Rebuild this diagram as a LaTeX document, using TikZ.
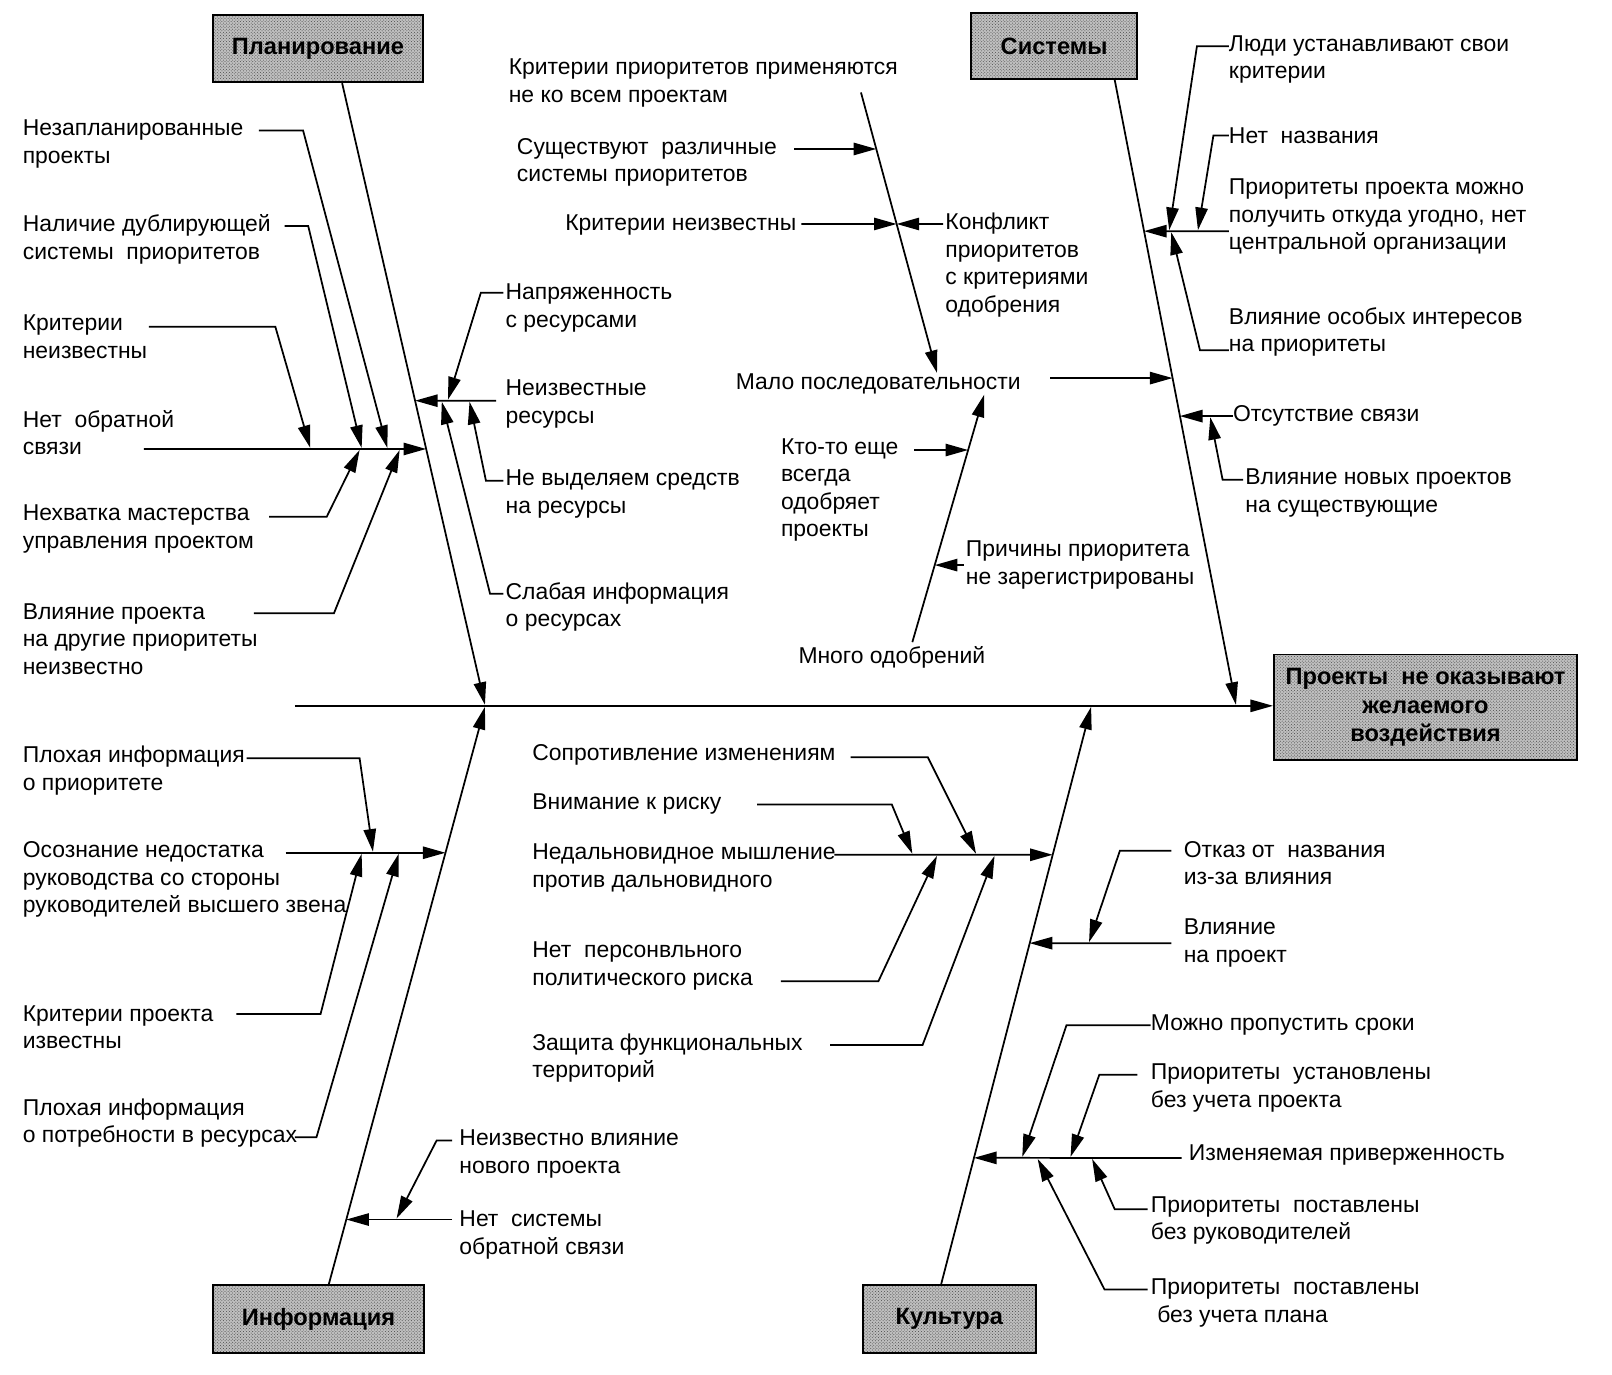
\documentclass[tikz,border=0pt]{standalone}
\usepackage{fontspec}
\setmainfont{Liberation Sans}
\usetikzlibrary{arrows.meta,patterns}

\tikzset{
  lbl/.style={anchor=west, align=left, inner sep=0pt,
    font=\fontsize{22.3}{26.8}\selectfont},
  cat/.style={draw, line width=1.8pt, preaction={fill=gray!50},
    pattern=crosshatch dots, pattern color=black!70,
    minimum height=66pt, inner sep=2pt, align=center,
    font=\fontsize{23}{28}\selectfont\bfseries},
  bone/.style={line width=1.7pt},
  arr/.style={bone, -{Triangle[length=22pt,width=12pt]}},
}

\begin{document}
\begin{tikzpicture}[x=1pt,y=-1pt]
  \useasboundingbox (0,0) rectangle (1569,1338);

  \node[cat, minimum width=205pt, minimum height=65pt] (plan) at (309.5,47.5) {Планирование};
  \node[cat, minimum width=162pt, minimum height=64pt] (sys) at (1026,45) {Системы};
  \node[cat, minimum width=206pt] (info) at (310,1284) {Информация};
  \node[cat, minimum width=168pt] (cult) at (924,1284) {Культура};
  \node[cat, minimum width=295pt, minimum height=103pt] (effect) at (1387.5,688.5)
    {Проекты~ не оказывают\\желаемого\\воздействия};

  \coordinate (tail) at (287,687);
  \draw[arr] (tail) -- (tail -| effect.west);

  \coordinate (pl0) at ([xshift=23.5pt]plan.south);
  \coordinate (pl1) at (472,686);
  \draw[arr] (pl0) -- (pl1);
  \coordinate (sy0) at ([xshift=59pt]sys.south);
  \coordinate (sy1) at (1203,686);
  \draw[arr] (sy0) -- (sy1);
  \coordinate (in0) at ([xshift=10pt]info.north);
  \coordinate (in1) at (472,688);
  \draw[arr] (in0) -- (in1);
  \coordinate (cu0) at ([xshift=-8pt]cult.north);
  \coordinate (cu1) at (1062,688);
  \draw[arr] (cu0) -- (cu1);

  \node[lbl] (unpl) at (22,140) {Незапланированные\\проекты};
  \node[lbl] (dupl) at (22,233) {Наличие дублирующей\\системы~ приоритетов};
  \node[lbl] (critp) at (22,328) {Критерии\\неизвестны};
  \node[lbl] (nofb) at (22,421) {Нет~ обратной\\связи};
  \node[lbl] (skill) at (22,515) {Нехватка мастерства\\управления проектом};
  \node[lbl] (impact) at (22,622) {Влияние проекта\\на другие приоритеты\\неизвестно};

  \coordinate (nofb-a) at (140,437);
  \coordinate (nofb-b) at (intersection of pl0--pl1 and 0,437--1,437);
  \draw[arr] (nofb-a) -- (nofb-b);
  \coordinate (unpl-a) at (252,127);
  \coordinate (unpl-b) at (377,436);
  \draw[arr] (unpl-a) -- ++(43,0) -- (unpl-b);
  \coordinate (dupl-a) at (277,220);
  \coordinate (dupl-b) at (352,436);
  \draw[arr] (dupl-a) -- ++(23,0) -- (dupl-b);
  \coordinate (critp-a) at (145,318);
  \coordinate (critp-b) at (302,436);
  \draw[arr] (critp-a) -- ++(123,0) -- (critp-b);
  \coordinate (skill-a) at (262,503);
  \coordinate (skill-b) at (350,438);
  \draw[arr] (skill-a) -- ++(56,0) -- (skill-b);
  \coordinate (impact-a) at (247,597);
  \coordinate (impact-b) at (389,438);
  \draw[arr] (impact-a) -- ++(78,0) -- (impact-b);

  \node[lbl] (tens) at (492,300) {Напряженность\\с ресурсами};
  \node[lbl] (unres) at (492,393) {Неизвестные\\ресурсы};
  \node[lbl] (noalloc) at (492,481) {Не выделяем средств\\на ресурсы};
  \node[lbl] (weak) at (492,591) {Слабая информация\\о ресурсах};

  \coordinate (unres-a) at (483,390);
  \coordinate (unres-b) at (intersection of pl0--pl1 and 0,390--1,390);
  \draw[arr] (unres-a) -- (unres-b);
  \coordinate (tens-a) at (490,285);
  \coordinate (tens-b) at (436,389);
  \draw[arr] (tens-a) -- ++(-22,0) -- (tens-b);
  \coordinate (noalloc-a) at (490,468);
  \coordinate (noalloc-b) at (457,391);
  \draw[arr] (noalloc-a) -- ++(-17,0) -- (noalloc-b);
  \coordinate (weak-a) at (490,578);
  \coordinate (weak-b) at (430,391);
  \draw[arr] (weak-a) -- ++(-13,0) -- (weak-b);

  \node[lbl] (critall) at (495,81) {Критерии приоритетов применяются\\не ко всем проектам};
  \node[lbl] (diff) at (503,158) {Существуют~ различные\\системы приоритетов};
  \node[lbl] (critunk) at (550,219) {Критерии неизвестны};
  \node[lbl] (confl) at (920,258) {Конфликт\\приоритетов\\с критериями\\одобрения};
  \node[lbl] (few) at (716,374) {Мало последовательности};
  \node[lbl] (someone) at (760,477) {Кто-то еще\\всегда\\одобряет\\проекты};
  \node[lbl] (reason) at (940,550) {Причины приоритета\\не зарегистрированы};
  \node[lbl] (many) at (777,640) {Много одобрений};

  \coordinate (cons-a) at (838,90);
  \coordinate (cons-b) at (912,363);
  \draw[arr] (cons-a) -- (cons-b);
  \coordinate (diff-a) at (773,145);
  \coordinate (diff-b) at (intersection of cons-a--cons-b and 0,145--1,145);
  \draw[arr] (diff-a) -- (diff-b);
  \coordinate (critunk-a) at (780,218);
  \coordinate (cons-x) at (intersection of cons-a--cons-b and 0,218--1,218);
  \draw[arr] (critunk-a) -- (cons-x);
  \coordinate (confl-a) at (918,218);
  \draw[arr] (confl-a) -- (cons-x);
  \coordinate (few-a) at (1022,368);
  \coordinate (few-b) at (intersection of sy0--sy1 and 0,368--1,368);
  \draw[arr] (few-a) -- (few-b);
  \coordinate (appr-a) at (888,625);
  \coordinate (appr-b) at (958,384);
  \draw[arr] (appr-a) -- (appr-b);
  \coordinate (someone-a) at (890,438);
  \coordinate (someone-b) at (intersection of appr-a--appr-b and 0,438--1,438);
  \draw[arr] (someone-a) -- (someone-b);
  \coordinate (reason-a) at (938,550);
  \coordinate (reason-b) at (intersection of appr-a--appr-b and 0,550--1,550);
  \draw[arr] (reason-a) -- (reason-b);

  \node[lbl] (people) at (1196,58) {Люди устанавливают свои\\критерии};
  \node[lbl] (noname) at (1196,132) {Нет~ названия};
  \node[lbl] (anywhere) at (1196,211) {Приоритеты проекта можно\\получить откуда угодно, нет\\центральной организации};
  \node[lbl] (special) at (1196,323) {Влияние особых интересов\\на приоритеты};
  \node[lbl] (nolink) at (1200,405) {Отсутствие связи};
  \node[lbl] (newproj) at (1212,480) {Влияние новых проектов\\на существующие};

  \coordinate (any-a) at (1196,225);
  \coordinate (any-b) at (intersection of sy0--sy1 and 0,225--1,225);
  \draw[arr] (any-a) -- (any-b);
  \coordinate (people-a) at (1196,45);
  \coordinate (people-b) at (1138,224);
  \draw[arr] (people-a) -- ++(-31,0) -- (people-b);
  \coordinate (noname-a) at (1196,132);
  \coordinate (noname-b) at (1166,224);
  \draw[arr] (noname-a) -- ++(-15,0) -- (noname-b);
  \coordinate (special-a) at (1196,341);
  \coordinate (special-b) at (1140,226);
  \draw[arr] (special-a) -- ++(-28,0) -- (special-b);
  \coordinate (nolink-a) at (1200,405);
  \coordinate (nolink-b) at (intersection of sy0--sy1 and 0,405--1,405);
  \draw[arr] (nolink-a) -- (nolink-b);
  \coordinate (newproj-a) at (1210,467);
  \coordinate (newproj-b) at (1178,406);
  \draw[arr] (newproj-a) -- ++(-20,0) -- (newproj-b);

  \node[lbl] (poorprio) at (22,750) {Плохая информация\\о приоритете};
  \node[lbl] (aware) at (22,856) {Осознание недостатка\\руководства со стороны\\руководителей высшего звена};
  \node[lbl] (critknown) at (22,1000) {Критерии проекта\\известны};
  \node[lbl] (poorres) at (22,1093) {Плохая информация\\о потребности в ресурсах};
  \node[lbl] (unknew) at (447,1123) {Неизвестно влияние\\нового проекта};
  \node[lbl] (nosys) at (447,1202) {Нет~ системы\\обратной связи};

  \coordinate (aware-a) at (278,830);
  \coordinate (aware-b) at (intersection of in0--in1 and 0,830--1,830);
  \draw[arr] (aware-a) -- (aware-b);
  \coordinate (poorprio-a) at (240,738);
  \coordinate (poorprio-b) at (363,829);
  \draw[arr] (poorprio-a) -- ++(110,0) -- (poorprio-b);
  \coordinate (critknown-a) at (230,987);
  \coordinate (critknown-b) at (352,831);
  \draw[arr] (critknown-a) -- ++(82,0) -- (critknown-b);
  \coordinate (poorres-a) at (287,1107);
  \coordinate (poorres-b) at (388,831);
  \draw[arr] (poorres-a) -- ++(21,0) -- (poorres-b);
  \coordinate (nosys-a) at (440,1187);
  \coordinate (nosys-b) at (intersection of in0--in1 and 0,1187--1,1187);
  \draw[arr] (nosys-a) -- (nosys-b);
  \coordinate (unknew-a) at (440,1110);
  \coordinate (unknew-b) at (386,1186);
  \draw[arr] (unknew-a) -- ++(-15,0) -- (unknew-b);

  \node[lbl] (resist) at (518,735) {Сопротивление изменениям};
  \node[lbl] (risk) at (518,783) {Внимание к риску};
  \node[lbl] (short) at (518,845) {Недальновидное мышление\\против дальновидного};
  \node[lbl] (pers) at (518,940) {Нет~ персонвльного\\политического риска};
  \node[lbl] (terr) at (518,1030) {Защита функциональных\\территорий};
  \node[lbl] (refuse) at (1152,840) {Отказ от~ названия\\из-за влияния};
  \node[lbl] (infl) at (1152,918) {Влияние\\на проект};
  \node[lbl] (miss) at (1120,998) {Можно пропустить сроки};
  \node[lbl] (setw) at (1120,1059) {Приоритеты~ установлены\\без учета проекта};
  \node[lbl] (commit) at (1157,1124) {Изменяемая приверженность};
  \node[lbl] (nomgr) at (1120,1188) {Приоритеты~ поставлены\\без руководителей};
  \node[lbl] (noplan) at (1120,1268) {Приоритеты~ поставлены\\~без учета плана};

  \coordinate (short-a) at (812,832);
  \coordinate (short-b) at (intersection of cu0--cu1 and 0,832--1,832);
  \draw[arr] (short-a) -- (short-b);
  \coordinate (resist-a) at (828,737);
  \coordinate (resist-b) at (950,831);
  \draw[arr] (resist-a) -- ++(75,0) -- (resist-b);
  \coordinate (risk-a) at (737,783);
  \coordinate (risk-b) at (888,831);
  \draw[arr] (risk-a) -- ++(131,0) -- (risk-b);
  \coordinate (pers-a) at (760,955);
  \coordinate (pers-b) at (912,833);
  \draw[arr] (pers-a) -- ++(95,0) -- (pers-b);
  \coordinate (terr-a) at (808,1017);
  \coordinate (terr-b) at (968,833);
  \draw[arr] (terr-a) -- ++(90,0) -- (terr-b);
  \coordinate (infl-a) at (1140,918);
  \coordinate (infl-b) at (intersection of cu0--cu1 and 0,918--1,918);
  \draw[arr] (infl-a) -- (infl-b);
  \coordinate (refuse-a) at (1140,828);
  \coordinate (refuse-b) at (1060,917);
  \draw[arr] (refuse-a) -- ++(-50,0) -- (refuse-b);
  \coordinate (commit-a) at (1150,1127);
  \coordinate (commit-b) at (intersection of cu0--cu1 and 0,1127--1,1127);
  \draw[arr] (commit-a) -- (commit-b);
  \coordinate (miss-a) at (1120,998);
  \coordinate (miss-b) at (995,1126);
  \draw[arr] (miss-a) -- ++(-82,0) -- (miss-b);
  \coordinate (setw-a) at (1107,1046);
  \coordinate (setw-b) at (1042,1126);
  \draw[arr] (setw-a) -- ++(-37,0) -- (setw-b);
  \coordinate (nomgr-a) at (1117,1177);
  \coordinate (nomgr-b) at (1063,1128);
  \draw[arr] (nomgr-a) -- ++(-32,0) -- (nomgr-b);
  \coordinate (noplan-a) at (1117,1255);
  \coordinate (noplan-b) at (1010,1128);
  \draw[arr] (noplan-a) -- ++(-42,0) -- (noplan-b);
\end{tikzpicture}
\end{document}
